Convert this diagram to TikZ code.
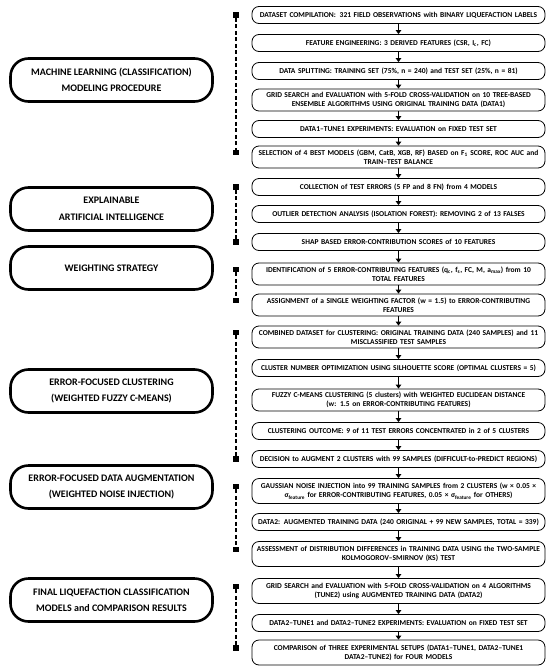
\documentclass[tikz,border=0pt]{standalone}
\usepackage{fontspec}
\setmainfont{Carlito}
\usetikzlibrary{positioning,arrows.meta}
\begin{document}
\begin{tikzpicture}[x=1pt,y=-1pt,
  rb/.style={draw, line width=0.8pt, rounded corners=7pt, minimum width=293pt, text width=291pt, minimum height=17pt, inner xsep=1pt, inner ysep=3pt, align=center, font=\bfseries\fontsize{7.5}{9.3}\selectfont},
  rd/.style={rb, minimum height=22pt},
  re/.style={rb, minimum height=25pt},
  lb/.style={draw, line width=2.6pt, rounded corners=18pt, minimum width=202pt, minimum height=43pt, align=center, font=\bfseries\fontsize{10}{16.5}\selectfont},
  arr/.style={-{Triangle[length=4pt,width=5.5pt]}, line width=1.4pt},
  brk/.style={dash pattern=on 4pt off 2.5pt, line width=1.2pt},
  sq/.style={fill=black, minimum size=5.5pt, inner sep=0pt}]
\fill[white] (0,0) rectangle (550,667);
\useasboundingbox (0,0) rectangle (550,667);
\coordinate (bx) at (236,0);
% right column
\node[rb] (b1) at (398.5,15) {DATASET COMPILATION:\enspace 321 FIELD OBSERVATIONS with BINARY LIQUEFACTION LABELS};
\node[rb] (b2) at (398.5,43) {FEATURE ENGINEERING: 3 DERIVED FEATURES (CSR, I\textsubscript{c}, FC)};
\node[rb] (b3) at (398.5,71) {DATA SPLITTING: TRAINING SET (75\%, n = 240) and TEST SET (25\%, n = 81)};
\node[rd] (b4) at (398.5,100) {GRID SEARCH and EVALUATION with 5-FOLD CROSS-VALIDATION on 10 TREE-BASED\\ENSEMBLE ALGORITHMS USING ORIGINAL TRAINING DATA (DATA1)};
\node[rb] (b5) at (398.5,129) {DATA1–TUNE1 EXPERIMENTS: EVALUATION on FIXED TEST SET};
\node[rd] (b6) at (398.5,157) {SELECTION of 4 BEST MODELS (GBM, CatB, XGB, RF) BASED on F\textsubscript{1} SCORE, ROC AUC and\\TRAIN–TEST BALANCE};
\node[rb] (b7) at (398.5,187) {COLLECTION of TEST ERRORS (5 FP and 8 FN) from 4 MODELS};
\node[rb] (b8) at (398.5,214) {OUTLIER DETECTION ANALYSIS (ISOLATION FOREST): REMOVING 2 of 13 FALSES};
\node[rb] (b9) at (398.5,242) {SHAP BASED ERROR-CONTRIBUTION SCORES of 10 FEATURES};
\node[rd] (b10) at (398.5,274) {IDENTIFICATION of 5 ERROR-CONTRIBUTING FEATURES (q\textsubscript{c}, f\textsubscript{s}, FC, M, a\textsubscript{max}) from 10\\TOTAL FEATURES};
\node[rd] (b11) at (398.5,305) {ASSIGNMENT of a SINGLE WEIGHTING FACTOR (w = 1.5) to ERROR-CONTRIBUTING\\FEATURES};
\node[rd] (b12) at (398.5,337) {COMBINED DATASET for CLUSTERING: ORIGINAL TRAINING DATA (240 SAMPLES) and 11\\MISCLASSIFIED TEST SAMPLES};
\node[rb] (b13) at (398.5,368) {CLUSTER NUMBER OPTIMIZATION USING SILHOUETTE SCORE (OPTIMAL CLUSTERS = 5)};
\node[rd] (b14) at (398.5,400) {FUZZY C-MEANS CLUSTERING (5 clusters) with WEIGHTED EUCLIDEAN DISTANCE\\(w: 1.5 on ERROR-CONTRIBUTING FEATURES)};
\node[rb] (b15) at (398.5,431) {CLUSTERING OUTCOME: 9 of 11 TEST ERRORS CONCENTRATED in 2 of 5 CLUSTERS};
\node[rb] (b16) at (398.5,459) {DECISION to AUGMENT 2 CLUSTERS with 99 SAMPLES (DIFFICULT-to-PREDICT REGIONS)};
\node[re] (b17) at (398.5,491) {GAUSSIAN NOISE INJECTION into 99 TRAINING SAMPLES from 2 CLUSTERS (w × 0.05 ×\\σ\textsubscript{feature} for ERROR-CONTRIBUTING FEATURES, 0.05 × σ\textsubscript{feature} for OTHERS)};
\node[rb] (b18) at (398.5,522) {DATA2: AUGMENTED TRAINING DATA (240 ORIGINAL + 99 NEW SAMPLES, TOTAL = 339)};
\node[re] (b19) at (398.5,554) {ASSESSMENT of DISTRIBUTION DIFFERENCES in TRAINING DATA USING the TWO-SAMPLE\\KOLMOGOROV–SMIRNOV (KS) TEST};
\node[re] (b20) at (398.5,591) {GRID SEARCH and EVALUATION with 5-FOLD CROSS-VALIDATION on 4 ALGORITHMS\\(TUNE2) using AUGMENTED TRAINING DATA (DATA2)};
\node[rb] (b21) at (398.5,623) {DATA2–TUNE1 and DATA2–TUNE2 EXPERIMENTS: EVALUATION on FIXED TEST SET};
\node[re] (b22) at (398.5,652.5) {COMPARISON of THREE EXPERIMENTAL SETUPS (DATA1–TUNE1, DATA2–TUNE1\\DATA2–TUNE2) for FOUR MODELS};
\foreach \a/\b in {1/2,2/3,3/4,4/5,5/6,6/7,7/8,8/9,9/10,10/11,11/12,12/13,13/14,14/15,15/16,16/17,17/18,18/19,19/20,20/21,21/22}
  \draw[arr] (b\a) -- (b\b);
% bracket end points (first text line of the boxes)
\coordinate (p1) at (b1.center);
\coordinate (q1) at ([yshift=4.5pt]b6.center);
\coordinate (p2) at (b7.center);
\coordinate (q2) at (b9.center);
\coordinate (p3) at ([yshift=4.5pt]b10.center);
\coordinate (q3) at ([yshift=4.5pt]b11.center);
\coordinate (p4) at ([yshift=4.5pt]b12.center);
\coordinate (q4) at (b16.center);
\coordinate (p5) at ([yshift=4.5pt]b17.center);
\coordinate (q5) at ([yshift=4.5pt]b19.center);
\coordinate (p6) at ([yshift=4.5pt]b20.center);
\coordinate (q6) at ([yshift=4.5pt]b22.center);
\foreach \g in {1,...,6}{
  \node[sq] (t\g) at (bx |- p\g) {};
  \node[sq] (u\g) at (bx |- q\g) {};
  \draw[brk] (t\g) -- (u\g);
}
% left column
\node[lb] (L1) at (111.5,80) {MACHINE LEARNING (CLASSIFICATION)\\MODELING PROCEDURE};
\node[lb] (L2) at (111.5,209) {EXPLAINABLE\\ARTIFICIAL INTELLIGENCE};
\node[lb] (L3) at (111.5,268) {WEIGHTING STRATEGY};
\node[lb] (L4) at (111.5,391) {ERROR-FOCUSED CLUSTERING\\(WEIGHTED FUZZY C-MEANS)};
\node[lb] (L5) at (111.5,487) {ERROR-FOCUSED DATA AUGMENTATION\\(WEIGHTED NOISE INJECTION)};
\node[lb] (L6) at (111.5,600) {FINAL LIQUEFACTION CLASSIFICATION\\MODELS and COMPARISON RESULTS};
\end{tikzpicture}
\end{document}
